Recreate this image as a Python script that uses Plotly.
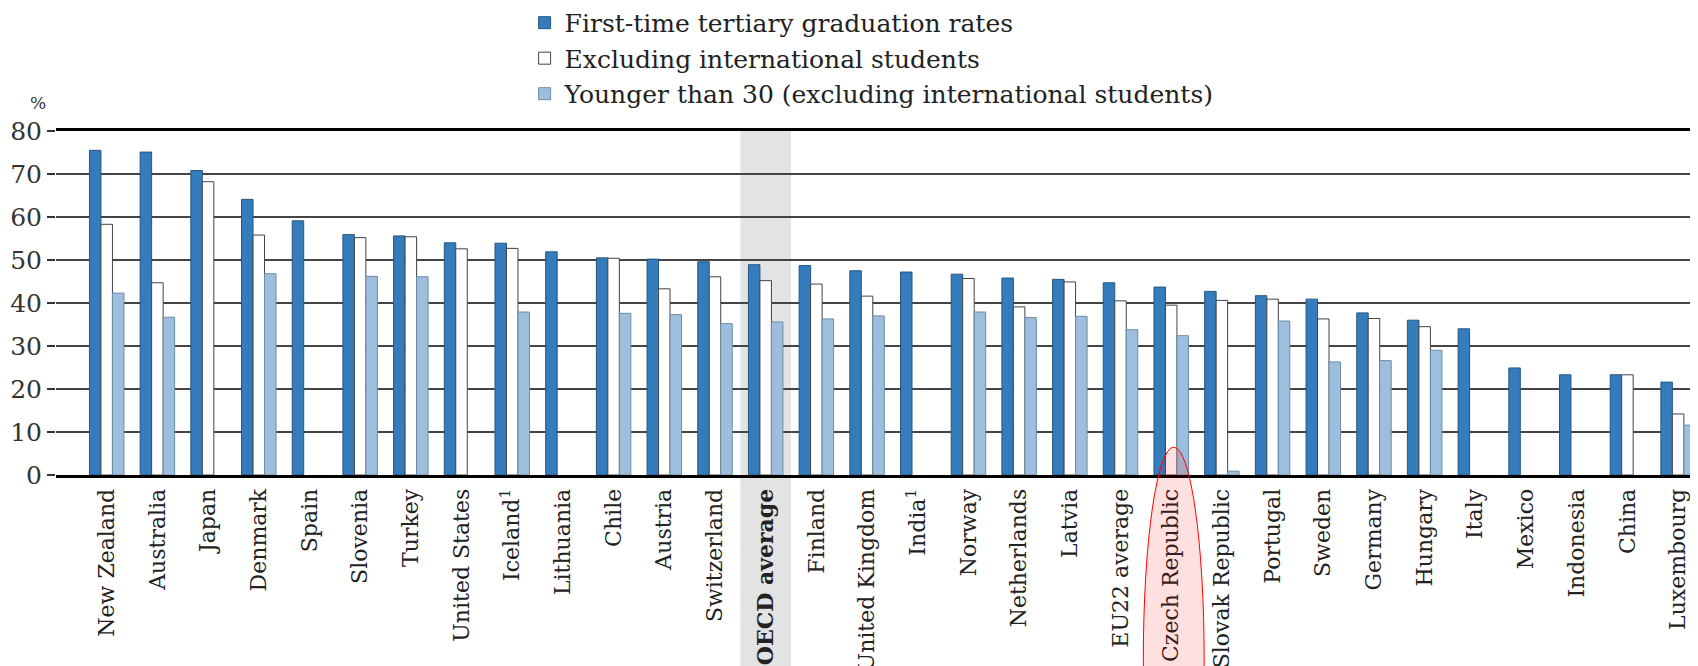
import plotly.graph_objects as go

countries = [
    "New Zealand", "Australia", "Japan", "Denmark", "Spain", "Slovenia", "Turkey",
    "United States", "Iceland<sup>1</sup>", "Lithuania", "Chile", "Austria", "Switzerland",
    "<b>OECD average</b>", "Finland", "United Kingdom", "India<sup>1</sup>", "Norway",
    "Netherlands", "Latvia", "EU22 average", "Czech Republic", "Slovak Republic",
    "Portugal", "Sweden", "Germany", "Hungary", "Italy", "Mexico", "Indonesia",
    "China", "Luxembourg",
]

first_time = [
    75.5, 75.1, 70.8, 64.1, 59.1, 55.9, 55.6, 54.0, 53.9, 51.9, 50.5, 50.2, 49.6,
    48.9, 48.7, 47.5, 47.2, 46.7, 45.8, 45.5, 44.7, 43.7, 42.7, 41.7, 40.9, 37.7,
    36.0, 34.0, 24.9, 23.3, 23.3, 21.6,
]
excl_intl = [
    58.3, 44.7, 68.2, 55.8, None, 55.2, 55.4, 52.6, 52.7, None, 50.4, 43.3, 46.1,
    45.2, 44.4, 41.6, None, 45.7, 39.1, 44.9, 40.5, 39.5, 40.6, 40.9, 36.3, 36.4,
    34.5, None, None, None, 23.3, 14.2,
]
under_30 = [
    42.3, 36.7, None, 46.8, None, 46.2, 46.1, None, 37.9, None, 37.6, 37.3, 35.2,
    35.6, 36.3, 37.0, None, 37.9, 36.6, 36.9, 33.8, 32.4, 0.9, 35.8, 26.3, 26.6,
    29.0, None, None, None, None, 11.6,
]

FONT = "DejaVu Serif"

fig = go.Figure()
fig.add_trace(go.Bar(
    x=countries, y=first_time, name="First-time tertiary graduation rates",
    marker=dict(color="#347cbb", line=dict(color="#25577f", width=1)),
))
fig.add_trace(go.Bar(
    x=countries, y=excl_intl, name="Excluding international students",
    marker=dict(color="#ffffff", line=dict(color="#444444", width=1)),
))
fig.add_trace(go.Bar(
    x=countries, y=under_30, name="Younger than 30 (excluding international students)",
    marker=dict(color="#9dbfdd", line=dict(color="#6d8ca6", width=1)),
))

# grey band behind the OECD average
fig.add_shape(type="rect", xref="x", yref="paper", x0=12.5, x1=13.5, y0=-0.6, y1=1,
              fillcolor="#e3e3e3", line=dict(width=0), layer="below")
# red highlight round Czech Republic
fig.add_shape(type="circle", xref="x", yref="paper", x0=20.45, x1=21.65, y0=-1.15, y1=0.081,
              fillcolor="rgba(255,0,0,0.12)", line=dict(color="#ff0000", width=1), layer="above")

fig.add_annotation(text="%", xref="paper", yref="paper", x=-0.011, y=1.081,
                   xanchor="center", yanchor="middle",
                   showarrow=False, font=dict(family=FONT, size=17, color="#333"))

fig.update_layout(
    width=1698, height=666,
    margin=dict(l=48, r=0, t=123, b=199, autoexpand=False),
    barmode="group", bargap=0.32, bargroupgap=0,
    plot_bgcolor="white", paper_bgcolor="white",
    font=dict(family=FONT, color="#222"),
    showlegend=True,
    legend=dict(
        x=0.284, y=1.381, xanchor="left", yanchor="top",
        font=dict(family=FONT, size=25, color="#222"),
        bgcolor="rgba(0,0,0,0)", tracegroupgap=0,
    ),
    xaxis=dict(
        type="category", range=[-1.0, 31.55], automargin=False,
        showline=True, mirror=True, linecolor="black", linewidth=3,
        showgrid=False, ticks="", tickangle=-90, ticklabelstandoff=2,
        tickfont=dict(family=FONT, size=22, color="#222"),
    ),
    yaxis=dict(
        range=[0, 80], tickvals=[0, 10, 20, 30, 40, 50, 60, 70, 80], automargin=False,
        showgrid=True, gridcolor="#444", gridwidth=1.5, zeroline=False,
        showline=False, ticks="outside", ticklen=8, tickcolor="#333", tickwidth=1.5,
        tickfont=dict(family=FONT, size=25, color="#333"),
    ),
)

fig.write_html("out.html")
